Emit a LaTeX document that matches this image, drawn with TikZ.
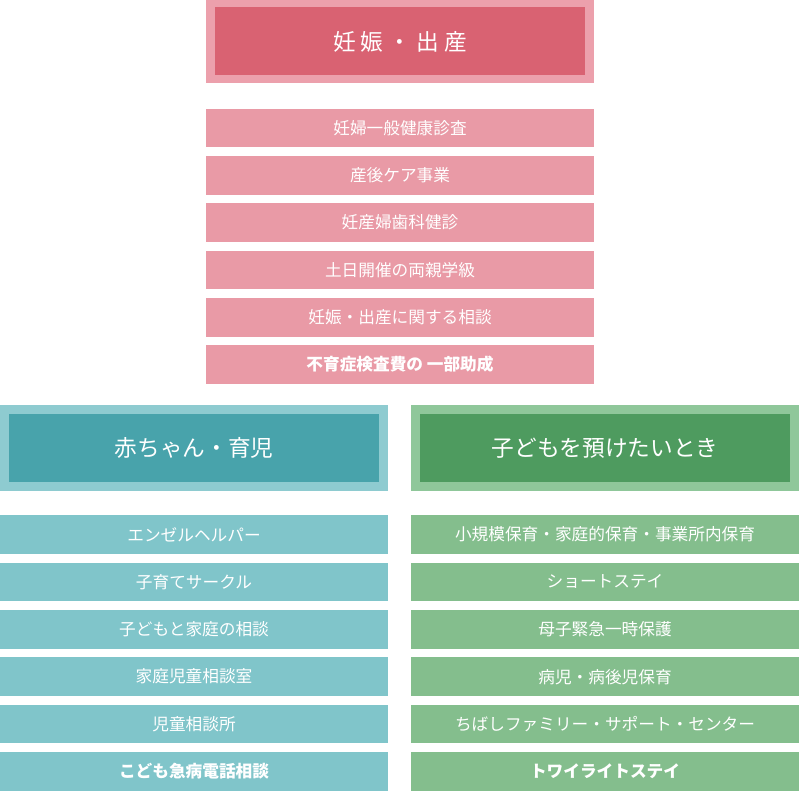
\documentclass[tikz,border=0pt]{standalone}
\usepackage{fontspec}
\setmainfont{Noto Sans CJK JP}
\definecolor{pinkout}{RGB}{236,160,172}
\definecolor{pinkin}{RGB}{217,98,114}
\definecolor{pinkitem}{RGB}{233,154,166}
\definecolor{tealout}{RGB}{142,203,208}
\definecolor{tealin}{RGB}{72,163,171}
\definecolor{tealitem}{RGB}{128,197,202}
\definecolor{greenout}{RGB}{143,199,154}
\definecolor{greenin}{RGB}{78,155,95}
\definecolor{greenitem}{RGB}{132,190,141}
\tikzset{every picture/.style={line width=0.75pt}}
\tikzset{
  headout/.style={minimum width=291pt,minimum height=63pt,inner sep=0pt},
  headin/.style={minimum width=277.5pt,minimum height=51pt,inner sep=0pt,text=white,font=\fontsize{17}{20}\selectfont},
  itembox/.style={minimum width=291pt,minimum height=29pt,inner sep=0pt,text=white,font=\fontsize{12.5}{15}\selectfont}
}
\begin{document}
\begin{tikzpicture}[x=0.75pt,y=0.75pt,yscale=-1,xscale=1]
\useasboundingbox (0,0) rectangle (800,791);

% headers
\node [headout,fill=pinkout] (birthout) at (400,41.5) {};
\node [headin,fill=pinkin] (birth) at (400,41.5) {妊 娠 ・ 出 産};
\node [headout,fill=tealout,minimum height=64.5pt] (babyout) at (194,448) {};
\node [headin,fill=tealin] (baby) at (194,448) {赤ちゃん・育児};
\node [headout,fill=greenout,minimum height=64.5pt] (careout) at (605,448) {};
\node [headin,fill=greenin] (care) at (605,448) {子どもを預けたいとき};

% pink items
\foreach \t [count=\i] in {妊婦一般健康診査,産後ケア事業,妊産婦歯科健診,土日開催の両親学級,妊娠・出産に関する相談}
  \node [itembox,fill=pinkitem] (b\i) at (400,{128+47.3*(\i-1)}) {\t};
\node [itembox,fill=pinkitem,font=\fontsize{12.5}{15}\selectfont\bfseries] (b6) at (400,364.5) {不育症検査費の 一部助成};

% teal items
\foreach \t [count=\i] in {エンゼルヘルパー,子育てサークル,子どもと家庭の相談,家庭児童相談室,児童相談所}
  \node [itembox,fill=tealitem] (y\i) at (194,{534.5+47.4*(\i-1)}) {\t};
\node [itembox,fill=tealitem,font=\fontsize{12.5}{15}\selectfont\bfseries] (y6) at (194,771.5) {こども急病電話相談};

% green items
\foreach \t [count=\i] in {小規模保育・家庭的保育・事業所内保育,ショートステイ,母子緊急一時保護,病児・病後児保育,ちばしファミリー・サポート・センター}
  \node [itembox,fill=greenitem] (c\i) at (605,{534.5+47.4*(\i-1)}) {\t};
\node [itembox,fill=greenitem,font=\fontsize{12.5}{15}\selectfont\bfseries] (c6) at (605,771.5) {トワイライトステイ};

\end{tikzpicture}
\end{document}
